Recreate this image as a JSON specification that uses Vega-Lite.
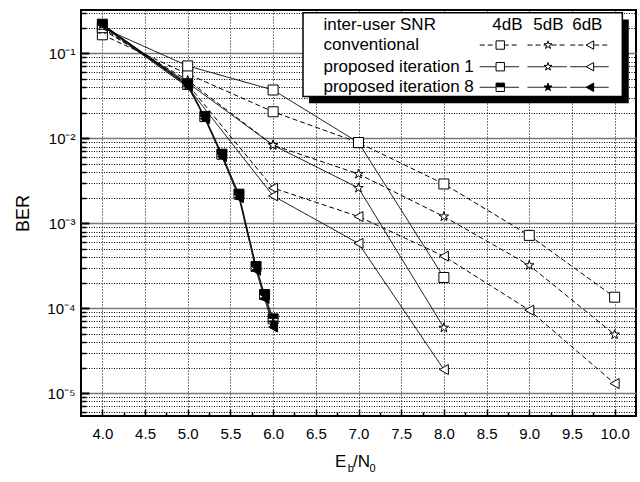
{
  "$schema": "https://vega.github.io/schema/vega-lite/v6.json",
  "width": 555,
  "height": 406,
  "autosize": {"type": "none"},
  "padding": {"left": 81, "top": 10, "right": 4, "bottom": 66},
  "background": "white",
  "config": {
    "view": {"stroke": "#000", "strokeWidth": 2},
    "font": "Liberation Sans",
    "axis": {"labelFont": "Liberation Sans", "titleFont": "Liberation Sans", "labelColor": "#000", "titleColor": "#000"},
    "text": {"font": "Liberation Sans"}
  },
  "datasets": {
    "ber": [
      {"m": "conv", "s": "4dB", "x": 4, "ber": 0.165},
      {"m": "conv", "s": "4dB", "x": 5, "ber": 0.057},
      {"m": "conv", "s": "4dB", "x": 6, "ber": 0.0205},
      {"m": "conv", "s": "4dB", "x": 7, "ber": 0.0089},
      {"m": "conv", "s": "4dB", "x": 8, "ber": 0.0029},
      {"m": "conv", "s": "4dB", "x": 9, "ber": 0.00072},
      {"m": "conv", "s": "4dB", "x": 10, "ber": 0.000135},
      {"m": "conv", "s": "5dB", "x": 4, "ber": 0.19},
      {"m": "conv", "s": "5dB", "x": 5, "ber": 0.048},
      {"m": "conv", "s": "5dB", "x": 6, "ber": 0.0083},
      {"m": "conv", "s": "5dB", "x": 7, "ber": 0.0038},
      {"m": "conv", "s": "5dB", "x": 8, "ber": 0.0012},
      {"m": "conv", "s": "5dB", "x": 9, "ber": 0.00032},
      {"m": "conv", "s": "5dB", "x": 10, "ber": 0.000049},
      {"m": "conv", "s": "6dB", "x": 4, "ber": 0.2},
      {"m": "conv", "s": "6dB", "x": 5, "ber": 0.043},
      {"m": "conv", "s": "6dB", "x": 6, "ber": 0.0026},
      {"m": "conv", "s": "6dB", "x": 7, "ber": 0.0012},
      {"m": "conv", "s": "6dB", "x": 8, "ber": 0.00041},
      {"m": "conv", "s": "6dB", "x": 9, "ber": 0.000095},
      {"m": "conv", "s": "6dB", "x": 10, "ber": 0.000013},
      {"m": "it1", "s": "4dB", "x": 4, "ber": 0.2},
      {"m": "it1", "s": "4dB", "x": 5, "ber": 0.071},
      {"m": "it1", "s": "4dB", "x": 6, "ber": 0.037},
      {"m": "it1", "s": "4dB", "x": 7, "ber": 0.0089},
      {"m": "it1", "s": "4dB", "x": 8, "ber": 0.00023},
      {"m": "it1", "s": "5dB", "x": 4, "ber": 0.21},
      {"m": "it1", "s": "5dB", "x": 5, "ber": 0.045},
      {"m": "it1", "s": "5dB", "x": 6, "ber": 0.0083},
      {"m": "it1", "s": "5dB", "x": 7, "ber": 0.0026},
      {"m": "it1", "s": "5dB", "x": 8, "ber": 0.000059},
      {"m": "it1", "s": "6dB", "x": 4, "ber": 0.21},
      {"m": "it1", "s": "6dB", "x": 5, "ber": 0.04},
      {"m": "it1", "s": "6dB", "x": 6, "ber": 0.0021},
      {"m": "it1", "s": "6dB", "x": 7, "ber": 0.00058},
      {"m": "it1", "s": "6dB", "x": 8, "ber": 0.000019},
      {"m": "it8", "s": "4dB", "x": 4, "ber": 0.22},
      {"m": "it8", "s": "4dB", "x": 5, "ber": 0.043},
      {"m": "it8", "s": "4dB", "x": 5.2, "ber": 0.018},
      {"m": "it8", "s": "4dB", "x": 5.4, "ber": 0.0065},
      {"m": "it8", "s": "4dB", "x": 5.6, "ber": 0.0022},
      {"m": "it8", "s": "4dB", "x": 5.8, "ber": 0.00031},
      {"m": "it8", "s": "4dB", "x": 5.9, "ber": 0.000145},
      {"m": "it8", "s": "4dB", "x": 6, "ber": 0.000075},
      {"m": "it8", "s": "5dB", "x": 4, "ber": 0.22},
      {"m": "it8", "s": "5dB", "x": 5, "ber": 0.042},
      {"m": "it8", "s": "5dB", "x": 5.2, "ber": 0.0175},
      {"m": "it8", "s": "5dB", "x": 5.4, "ber": 0.0063},
      {"m": "it8", "s": "5dB", "x": 5.6, "ber": 0.0021},
      {"m": "it8", "s": "5dB", "x": 5.8, "ber": 0.0003},
      {"m": "it8", "s": "5dB", "x": 5.9, "ber": 0.00014},
      {"m": "it8", "s": "5dB", "x": 6, "ber": 0.000068},
      {"m": "it8", "s": "6dB", "x": 4, "ber": 0.215},
      {"m": "it8", "s": "6dB", "x": 5, "ber": 0.041},
      {"m": "it8", "s": "6dB", "x": 5.2, "ber": 0.017},
      {"m": "it8", "s": "6dB", "x": 5.4, "ber": 0.0061},
      {"m": "it8", "s": "6dB", "x": 5.6, "ber": 0.002},
      {"m": "it8", "s": "6dB", "x": 5.8, "ber": 0.00028},
      {"m": "it8", "s": "6dB", "x": 5.9, "ber": 0.00013},
      {"m": "it8", "s": "6dB", "x": 6, "ber": 0.00006}
    ],
    "legendBox": [
      {"part": "shadow", "x1": 6.42, "x2": 10.165, "y1": 0.0258, "y2": 0.25},
      {"part": "box", "x1": 6.35, "x2": 10.09, "y1": 0.031, "y2": 0.3}
    ],
    "legendKeys": [
      {"m": "conv", "s": "4dB", "x1": 8.42, "x2": 8.88, "xc": 8.66, "ly": 0.125},
      {"m": "conv", "s": "5dB", "x1": 8.98, "x2": 9.44, "xc": 9.22, "ly": 0.125},
      {"m": "conv", "s": "6dB", "x1": 9.48, "x2": 9.93, "xc": 9.71, "ly": 0.125},
      {"m": "it1", "s": "4dB", "x1": 8.42, "x2": 8.88, "xc": 8.66, "ly": 0.0695},
      {"m": "it1", "s": "5dB", "x1": 8.98, "x2": 9.44, "xc": 9.22, "ly": 0.0695},
      {"m": "it1", "s": "6dB", "x1": 9.48, "x2": 9.93, "xc": 9.71, "ly": 0.0695},
      {"m": "it8", "s": "4dB", "x1": 8.42, "x2": 8.88, "xc": 8.66, "ly": 0.0398},
      {"m": "it8", "s": "5dB", "x1": 8.98, "x2": 9.44, "xc": 9.22, "ly": 0.0398},
      {"m": "it8", "s": "6dB", "x1": 9.48, "x2": 9.93, "xc": 9.71, "ly": 0.0398}
    ],
    "legendText": [
      {"t": "inter-user SNR", "tx": 6.59, "ty": 0.215, "a": "left"},
      {"t": "conventional", "tx": 6.59, "ty": 0.125, "a": "left"},
      {"t": "proposed iteration 1", "tx": 6.59, "ty": 0.0695, "a": "left"},
      {"t": "proposed iteration 8", "tx": 6.59, "ty": 0.0398, "a": "left"},
      {"t": "4dB", "tx": 8.745, "ty": 0.215, "a": "center"},
      {"t": "5dB", "tx": 9.225, "ty": 0.215, "a": "center"},
      {"t": "6dB", "tx": 9.68, "ty": 0.215, "a": "center"}
    ],
    "xTitle": [
      {"t": "E", "role": "main", "tx": 6.726, "ty": 0.00000156},
      {"t": "b", "role": "sub", "tx": 6.875, "ty": 0.0000013},
      {"t": "/N", "role": "main", "tx": 6.935, "ty": 0.00000156},
      {"t": "0", "role": "sub", "tx": 7.13, "ty": 0.0000013}
    ]
  },
  "resolve": {"axis": {"x": "independent", "y": "independent"}},
  "layer": [
    {
      "data": {"name": "ber"},
      "mark": {"type": "line", "color": "#000"},
      "encoding": {
        "x": {"field": "x", "type": "quantitative",
          "scale": {"domain": [3.75, 10.25], "nice": false, "zero": false},
          "axis": {"orient": "bottom", "values": [4, 4.5, 5, 5.5, 6, 6.5, 7, 7.5, 8, 8.5, 9, 9.5, 10], "format": ".1f", "title": null,
            "grid": true, "gridDash": [1, 2], "gridColor": "#000", "gridWidth": 1,
            "tickSize": -7, "tickWidth": 1.5, "tickColor": "#000", "domain": false,
            "labelPadding": 17, "labelFontSize": 15}},
        "y": {"field": "ber", "type": "quantitative",
          "scale": {"type": "log", "domain": [0.0000054, 0.323], "nice": false, "zero": false},
          "axis": {"orient": "left", "values": [0.00001, 0.0001, 0.001, 0.01, 0.1],
            "labelExpr": "datum.value < 0.00002 ? '10⁻⁵' : datum.value < 0.0002 ? '10⁻⁴' : datum.value < 0.002 ? '10⁻³' : datum.value < 0.02 ? '10⁻²' : '10⁻¹'",
            "grid": true, "gridColor": "#777", "gridWidth": 1.5,
            "tickSize": -8, "tickWidth": 2, "tickColor": "#000", "domain": false,
            "labelPadding": 14, "labelFontSize": 15,
            "title": "BER", "titleFontSize": 18, "titleFontWeight": "normal", "titlePadding": 14}},
        "detail": {"field": "s"},
        "strokeDash": {"field": "m", "type": "nominal", "scale": {"domain": ["conv", "it1", "it8"], "range": [[5, 3], [1, 0], [1, 0]]}, "legend": null},
        "strokeWidth": {"field": "m", "type": "nominal", "scale": {"domain": ["conv", "it1", "it8"], "range": [1, 1, 2.5]}, "legend": null}
      }
    },
    {
      "data": {"name": "ber"},
      "transform": [{"filter": "datum.m != 'it8'"}],
      "mark": {"type": "point", "filled": true, "fill": "white", "stroke": "#000", "strokeWidth": 1, "size": 100, "opacity": 1},
      "encoding": {
        "x": {"field": "x", "type": "quantitative",
          "axis": {"orient": "bottom", "values": [4.25, 4.75, 5.25, 5.75, 6.25, 6.75, 7.25, 7.75, 8.25, 8.75, 9.25, 9.75], "labels": false, "grid": false, "title": null,
            "tickSize": -4, "tickWidth": 1.5, "tickColor": "#000", "domain": false}},
        "y": {"field": "ber", "type": "quantitative",
          "axis": {"orient": "left", "values": [0.000006, 0.000007, 0.000008, 0.000009, 0.00002, 0.00003, 0.00004, 0.00005, 0.00006, 0.00007, 0.00008, 0.00009, 0.0002, 0.0003, 0.0004, 0.0005, 0.0006, 0.0007, 0.0008, 0.0009, 0.002, 0.003, 0.004, 0.005, 0.006, 0.007, 0.008, 0.009, 0.02, 0.03, 0.04, 0.05, 0.06, 0.07, 0.08, 0.09, 0.2, 0.3],
            "labels": false, "grid": true, "gridDash": [1, 1.5], "gridColor": "#000", "gridWidth": 1,
            "tickSize": -5, "tickWidth": 1.5, "tickColor": "#000", "domain": false, "title": null}},
        "shape": {"field": "s", "type": "nominal", "scale": {"domain": ["4dB", "5dB", "6dB"], "range": ["square", "M0,-1L0.2245,-0.309L0.9511,-0.309L0.3633,0.118L0.5878,0.809L0,0.382L-0.5878,0.809L-0.3633,0.118L-0.9511,-0.309L-0.2245,-0.309Z", "M-0.9,0L0.9,-1L0.9,1Z"]}, "legend": null}
      }
    },
    {
      "data": {"name": "ber"},
      "transform": [{"filter": "datum.m == 'it8'"}],
      "mark": {"type": "point", "filled": true, "stroke": "#000", "strokeWidth": 1, "size": 100, "opacity": 1},
      "encoding": {
        "x": {"field": "x", "type": "quantitative", "axis": null},
        "y": {"field": "ber", "type": "quantitative", "axis": null},
        "shape": {"field": "s", "type": "nominal", "legend": null},
        "fill": {"field": "s", "type": "nominal", "scale": {"domain": ["4dB", "5dB", "6dB"], "range": ["white", "black", "black"]}, "legend": null}
      }
    },
    {
      "data": {"name": "ber"},
      "transform": [{"filter": "datum.m == 'it8' && datum.s == '4dB'"}],
      "mark": {"type": "point", "filled": true, "fill": "black", "strokeWidth": 0, "size": 100, "opacity": 1, "shape": "M-1,-1H1V0H-1Z"},
      "encoding": {
        "x": {"field": "x", "type": "quantitative", "axis": null},
        "y": {"field": "ber", "type": "quantitative", "axis": null}
      }
    },
    {
      "data": {"name": "legendBox"},
      "transform": [{"filter": "datum.part == 'shadow'"}],
      "mark": {"type": "rect", "fill": "#000"},
      "encoding": {
        "x": {"field": "x1", "type": "quantitative", "axis": null},
        "x2": {"field": "x2"},
        "y": {"field": "y1", "type": "quantitative", "axis": null},
        "y2": {"field": "y2"}
      }
    },
    {
      "data": {"name": "legendBox"},
      "transform": [{"filter": "datum.part == 'box'"}],
      "mark": {"type": "rect", "fill": "#fff", "stroke": "#000", "strokeWidth": 1.5},
      "encoding": {
        "x": {"field": "x1", "type": "quantitative", "axis": null},
        "x2": {"field": "x2"},
        "y": {"field": "y1", "type": "quantitative", "axis": null},
        "y2": {"field": "y2"}
      }
    },
    {
      "data": {"name": "legendKeys"},
      "mark": {"type": "rule", "color": "#000"},
      "encoding": {
        "x": {"field": "x1", "type": "quantitative", "axis": null},
        "x2": {"field": "x2"},
        "y": {"field": "ly", "type": "quantitative", "axis": null},
        "strokeDash": {"field": "m", "type": "nominal", "legend": null},
        "strokeWidth": {"field": "m", "type": "nominal", "legend": null}
      }
    },
    {
      "data": {"name": "legendKeys"},
      "transform": [{"filter": "datum.m != 'it8'"}],
      "mark": {"type": "point", "filled": true, "fill": "white", "stroke": "#000", "strokeWidth": 1, "size": 70, "opacity": 1},
      "encoding": {
        "x": {"field": "xc", "type": "quantitative", "axis": null},
        "y": {"field": "ly", "type": "quantitative", "axis": null},
        "shape": {"field": "s", "type": "nominal", "legend": null}
      }
    },
    {
      "data": {"name": "legendKeys"},
      "transform": [{"filter": "datum.m == 'it8'"}],
      "mark": {"type": "point", "filled": true, "stroke": "#000", "strokeWidth": 1, "size": 70, "opacity": 1},
      "encoding": {
        "x": {"field": "xc", "type": "quantitative", "axis": null},
        "y": {"field": "ly", "type": "quantitative", "axis": null},
        "shape": {"field": "s", "type": "nominal", "legend": null},
        "fill": {"field": "s", "type": "nominal", "legend": null}
      }
    },
    {
      "data": {"name": "legendKeys"},
      "transform": [{"filter": "datum.m == 'it8' && datum.s == '4dB'"}],
      "mark": {"type": "point", "filled": true, "fill": "black", "strokeWidth": 0, "size": 70, "opacity": 1, "shape": "M-1,-1H1V0H-1Z"},
      "encoding": {
        "x": {"field": "xc", "type": "quantitative", "axis": null},
        "y": {"field": "ly", "type": "quantitative", "axis": null}
      }
    },
    {
      "data": {"name": "legendText"},
      "transform": [{"filter": "datum.a == 'left'"}],
      "mark": {"type": "text", "fontSize": 17, "baseline": "middle", "align": "left", "color": "#000"},
      "encoding": {
        "x": {"field": "tx", "type": "quantitative", "axis": null},
        "y": {"field": "ty", "type": "quantitative", "axis": null},
        "text": {"field": "t"}
      }
    },
    {
      "data": {"name": "legendText"},
      "transform": [{"filter": "datum.a == 'center'"}],
      "mark": {"type": "text", "fontSize": 17, "baseline": "middle", "align": "center", "color": "#000"},
      "encoding": {
        "x": {"field": "tx", "type": "quantitative", "axis": null},
        "y": {"field": "ty", "type": "quantitative", "axis": null},
        "text": {"field": "t"}
      }
    },
    {
      "data": {"name": "xTitle"},
      "transform": [{"filter": "datum.role == 'main'"}],
      "mark": {"type": "text", "fontSize": 17, "baseline": "middle", "align": "left", "color": "#000"},
      "encoding": {
        "x": {"field": "tx", "type": "quantitative", "axis": null},
        "y": {"field": "ty", "type": "quantitative", "axis": null},
        "text": {"field": "t"}
      }
    },
    {
      "data": {"name": "xTitle"},
      "transform": [{"filter": "datum.role == 'sub'"}],
      "mark": {"type": "text", "fontSize": 11, "baseline": "middle", "align": "left", "color": "#000"},
      "encoding": {
        "x": {"field": "tx", "type": "quantitative", "axis": null},
        "y": {"field": "ty", "type": "quantitative", "axis": null},
        "text": {"field": "t"}
      }
    }
  ]
}
